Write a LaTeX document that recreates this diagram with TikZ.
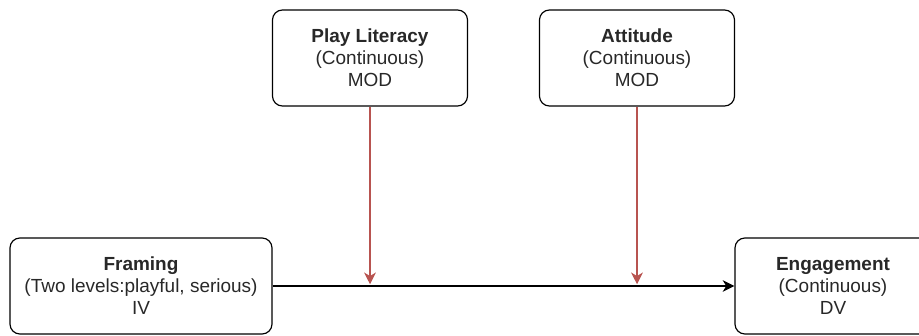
\documentclass[tikz,border=0pt]{standalone}
\usepackage{fontspec}
\setmainfont{Liberation Sans}
\usetikzlibrary{arrows.meta}
\definecolor{modRed}{RGB}{184,84,80}
\definecolor{textGray}{RGB}{40,40,40}

\begin{document}
\begin{tikzpicture}[x=0.03cm, y=-0.03cm,
  var/.style={draw, rounded corners=8.5pt, line width=1pt, align=center, text=textGray,
    font=\fontsize{16.2}{18.7}\selectfont, minimum height=2.88cm, inner sep=0pt},
  link/.style={line width=1.1pt, -{Stealth[length=10pt, width=10pt, inset=3pt]}},
  modlink/.style={draw=modRed, line width=1pt, -{Stealth[length=10pt, width=10pt, inset=3pt, fill=modRed]}}]
	\clip (0,0) rectangle (919,336);
	\node[var, minimum width=5.85cm] (lit) at (370,58) {\textbf{Play Literacy}\\(Continuous)\\MOD};
	\node[var, minimum width=5.85cm] (att) at (637,58) {\textbf{Attitude}\\(Continuous)\\MOD};
	\node[var, minimum width=7.86cm] (frm) at (141,286) {\textbf{Framing}\\(Two levels:playful, serious)\\IV};
	\node[var, minimum width=5.88cm] (eng) at (833,286) {\textbf{Engagement}\\(Continuous)\\DV};
	\draw[link] (frm.east) -- (eng.west);
	\coordinate (litend) at (lit.south |- frm.east);
	\coordinate (attend) at (att.south |- frm.east);
	\draw[modlink] (lit.south) -- ([yshift=1.5pt]litend);
	\draw[modlink] (att.south) -- ([yshift=1.5pt]attend);
\end{tikzpicture}
\end{document}
